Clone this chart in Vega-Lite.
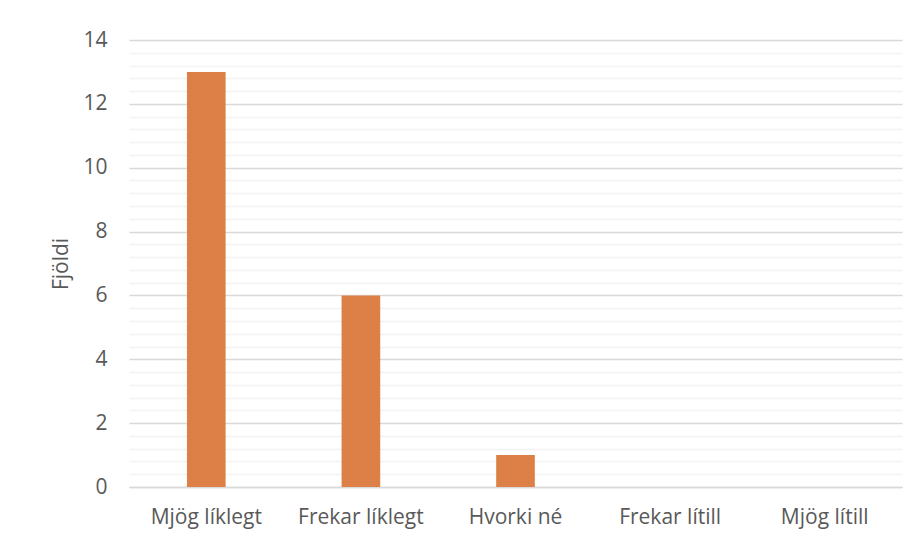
{
  "$schema": "https://vega.github.io/schema/vega-lite/v6.json",
  "autosize": {"type": "none"},
  "width": 773,
  "height": 447,
  "padding": {"left": 129, "top": 40, "right": 17, "bottom": 54},
  "background": "white",
  "config": {"view": {"stroke": null}, "font": "Open Sans"},
  "data": {"values": [
    {"svar": "Mjög líklegt", "fjoldi": 13},
    {"svar": "Frekar líklegt", "fjoldi": 6},
    {"svar": "Hvorki né", "fjoldi": 1},
    {"svar": "Frekar lítill", "fjoldi": 0},
    {"svar": "Mjög lítill", "fjoldi": 0}
  ]},
  "mark": {"type": "bar", "color": "#dd8047"},
  "encoding": {
    "x": {
      "field": "svar", "type": "nominal", "sort": null,
      "scale": {"paddingInner": 0.75, "paddingOuter": 0.375},
      "axis": {"title": null, "labelAngle": 0, "ticks": false, "domain": true, "domainColor": "#d9d9d9", "domainWidth": 1.5,
        "labelFont": "Open Sans", "labelFontSize": 21, "labelColor": "#595959", "labelPadding": 19, "labelOverlap": false, "grid": false}
    },
    "y": {
      "field": "fjoldi", "type": "quantitative",
      "scale": {"domain": [0, 14], "nice": false},
      "axis": {
        "title": "Fjöldi", "titleFont": "Open Sans", "titleFontSize": 21, "titleFontWeight": "normal", "titleColor": "#595959", "titlePadding": 11,
        "values": [0, 0.4, 0.8, 1.2, 1.6, 2, 2.4, 2.8, 3.2, 3.6, 4, 4.4, 4.8, 5.2, 5.6, 6, 6.4, 6.8, 7.2, 7.6, 8, 8.4, 8.8, 9.2, 9.6, 10, 10.4, 10.8, 11.2, 11.6, 12, 12.4, 12.8, 13.2, 13.6, 14],
        "labelExpr": "datum.value % 2 === 0 ? format(datum.value, 'd') : ''",
        "labelOverlap": false,
        "labelFont": "Open Sans", "labelFontSize": 21, "labelColor": "#595959", "labelPadding": 22,
        "ticks": false, "domain": false,
        "grid": true,
        "gridColor": {"condition": {"test": "datum.value % 2 === 0", "value": "#d9d9d9"}, "value": "#f2f2f2"},
        "gridWidth": 1.5
      }
    }
  }
}
